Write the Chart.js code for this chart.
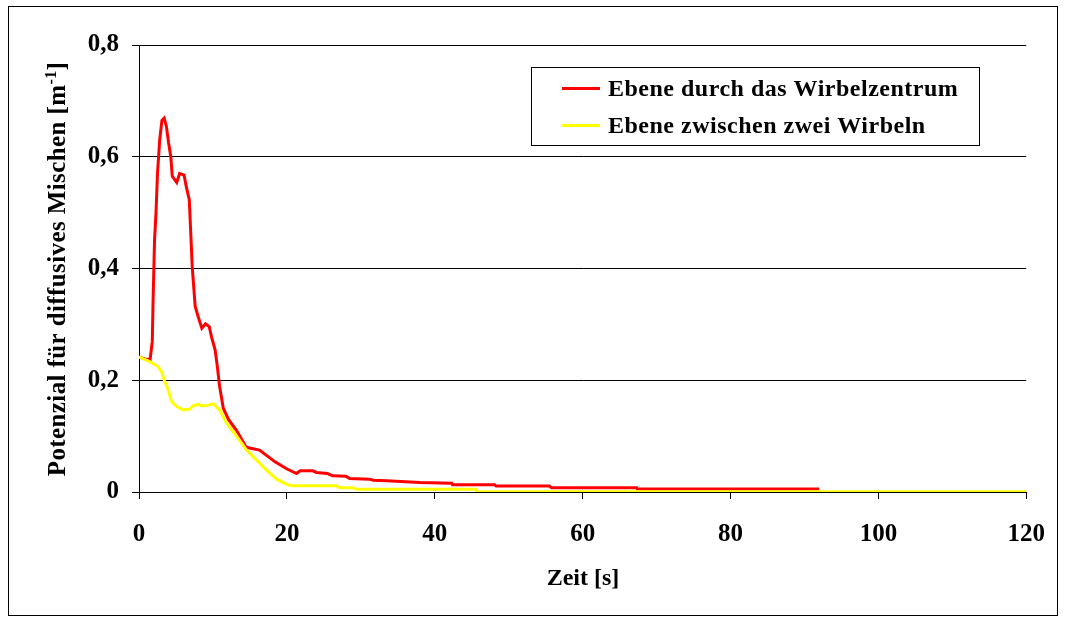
<!DOCTYPE html>
<html>
<head>
<meta charset="utf-8">
<script src="https://cdn.jsdelivr.net/npm/chart.js@4.4.1/dist/chart.umd.min.js"></script>
<style>
html,body{margin:0;padding:0;background:#fff;}
#wrap{position:relative;width:1066px;height:621px;}
</style>
</head>
<body>
<div id="wrap"><canvas id="c" width="1066" height="621"></canvas></div>
<script>
// ---- data ----
const seriesNames = ['Ebene durch das Wirbelzentrum', 'Ebene zwischen zwei Wirbeln'];
const redTime = [0,0.8,1.5,1.8,1.9,2.1,2.3,2.5,2.8,3.1,3.4,3.7,4.0,4.3,4.5,5.1,5.5,6.1,6.4,6.8,7.0,7.2,7.6,8.0,8.5,9.0,9.5,9.8,10.3,10.6,10.9,11.4,12.1,13.2,14.5,16.3,17.2,18.4,19.9,21.3,21.8,23.5,24.0,25.5,26.2,28.0,28.5,31.2,31.7,33.5,38.0,42.3,42.4,48.1,48.3,55.5,55.8,67.3,67.4,92];
const redValue = [0.242,0.238,0.237,0.27,0.34,0.45,0.50,0.57,0.63,0.665,0.669,0.655,0.625,0.60,0.565,0.554,0.570,0.567,0.546,0.523,0.463,0.403,0.332,0.314,0.293,0.301,0.296,0.278,0.254,0.224,0.189,0.150,0.130,0.110,0.080,0.075,0.066,0.054,0.042,0.033,0.038,0.038,0.035,0.033,0.029,0.028,0.024,0.023,0.021,0.020,0.017,0.0155,0.013,0.013,0.0107,0.0107,0.0078,0.0078,0.0054,0.0054];
const yellowTime = [0,1.5,2.6,3.06,3.5,3.95,4.4,5.1,6.0,6.8,7.3,8.0,8.5,9.2,10.05,10.95,11.85,13.2,14.55,15.9,17.25,18.6,20.2,20.85,26.7,27.15,28.95,29.4,45.5,45.8,120];
const yellowValue = [0.242,0.233,0.224,0.215,0.197,0.183,0.162,0.153,0.147,0.148,0.154,0.157,0.154,0.155,0.158,0.146,0.123,0.100,0.075,0.057,0.039,0.023,0.0125,0.011,0.011,0.0077,0.0077,0.0048,0.0048,0.0005,0.0005];
const xTicks = [0,20,40,60,80,100,120];
const yTicks = [0,0.2,0.4,0.6,0.8];
const yTickLabels = ['0','0,2','0,4','0,6','0,8'];
const xTitle = 'Zeit [s]';
const yTitleMain = 'Potenzial für diffusives Mischen [m';
const yTitleSup = '-1';
const yTitleEnd = ']';

const FONT = '"Liberation Serif", "Times New Roman", serif';
const colors = ['#FF0000', '#FFFF00'];

function pts(t, v){ return t.map((x,i)=>({x:x, y:v[i]})); }

const decor = {
  id:'decor',
  beforeDraw(chart){
    const ctx = chart.ctx;
    ctx.save();
    ctx.fillStyle = '#fff';
    ctx.fillRect(0,0,chart.width,chart.height);
    ctx.restore();
  },
  afterDraw(chart){
    const ctx = chart.ctx;
    ctx.save();
    // outer frame
    ctx.strokeStyle = '#000';
    ctx.lineWidth = 1;
    ctx.strokeRect(8.5, 6.5, 1049, 609);
    // x title
    ctx.fillStyle = '#000';
    ctx.font = 'bold 24px ' + FONT;
    ctx.textAlign = 'center';
    ctx.textBaseline = 'middle';
    ctx.fillText(xTitle, 583, 579);
    // y title (rotated, with superscript)
    ctx.save();
    ctx.translate(65, 269);
    ctx.rotate(-Math.PI/2);
    ctx.textBaseline = 'alphabetic';
    ctx.textAlign = 'left';
    const mainFont = 'bold 25px ' + FONT;
    const supFont = 'bold 16px ' + FONT;
    ctx.font = mainFont;
    ctx.letterSpacing = '0.4px';
    const w1 = ctx.measureText(yTitleMain).width;
    const w3 = ctx.measureText(yTitleEnd).width;
    ctx.font = supFont;
    const w2 = ctx.measureText(yTitleSup).width;
    const total = w1 + w2 + w3;
    let x0 = -total/2;
    ctx.font = mainFont;
    ctx.fillText(yTitleMain, x0, 0);
    ctx.font = supFont;
    ctx.fillText(yTitleSup, x0 + w1, -9);
    ctx.font = mainFont;
    ctx.fillText(yTitleEnd, x0 + w1 + w2, 0);
    ctx.restore();
    // legend box
    ctx.strokeStyle = '#000';
    ctx.lineWidth = 1;
    ctx.strokeRect(531.5, 67.5, 448, 78);
    const rows = [88.5, 125.5];
    ctx.font = 'bold 24px ' + FONT;
    ctx.letterSpacing = '0.5px';
    ctx.textAlign = 'left';
    ctx.textBaseline = 'middle';
    for (let i=0;i<2;i++){
      ctx.strokeStyle = colors[i];
      ctx.lineWidth = 3;
      ctx.beginPath();
      ctx.moveTo(562, rows[i]);
      ctx.lineTo(600, rows[i]);
      ctx.stroke();
      ctx.fillStyle = '#000';
      ctx.fillText(seriesNames[i], 608, rows[i]+1);
    }
    ctx.restore();
  }
};

new Chart(document.getElementById('c'), {
  type:'line',
  data:{
    datasets:[
      {label:seriesNames[0], data:pts(redTime, redValue), borderColor:colors[0], borderWidth:3, pointRadius:0, tension:0, fill:false, order:2},
      {label:seriesNames[1], data:pts(yellowTime, yellowValue), borderColor:colors[1], borderWidth:3, pointRadius:0, tension:0, fill:false, order:1}
    ]
  },
  options:{
    responsive:false,
    animation:false,
    layout:{padding:{left:0, top:45, right:39, bottom:0}},
    plugins:{legend:{display:false}, tooltip:{enabled:false}},
    scales:{
      x:{
        type:'linear', min:0, max:120,
        afterBuildTicks(s){ s.ticks = xTicks.map(v=>({value:v})); },
        afterFit(s){ s.height = 129; },
        grid:{drawOnChartArea:false, drawTicks:true, tickLength:7, color:'#000', lineWidth:1},
        border:{color:'#000', width:1},
        ticks:{color:'#000', font:{family:FONT, size:25, weight:'bold'}, padding:21, maxRotation:0}
      },
      y:{
        type:'linear', min:0, max:0.8,
        afterBuildTicks(s){ s.ticks = yTicks.map(v=>({value:v})); },
        afterFit(s){ s.width = 139; },
        grid:{drawOnChartArea:true, drawTicks:true, tickLength:7, color:'#000', lineWidth:1},
        border:{color:'#000', width:1},
        ticks:{color:'#000', font:{family:FONT, size:25, weight:'bold'}, padding:13,
          callback(v){ const i = yTicks.findIndex(t=>Math.abs(t-v)<1e-9); return i>=0 ? yTickLabels[i] : ''; }}
      }
    }
  },
  plugins:[decor]
});
</script>
</body>
</html>
